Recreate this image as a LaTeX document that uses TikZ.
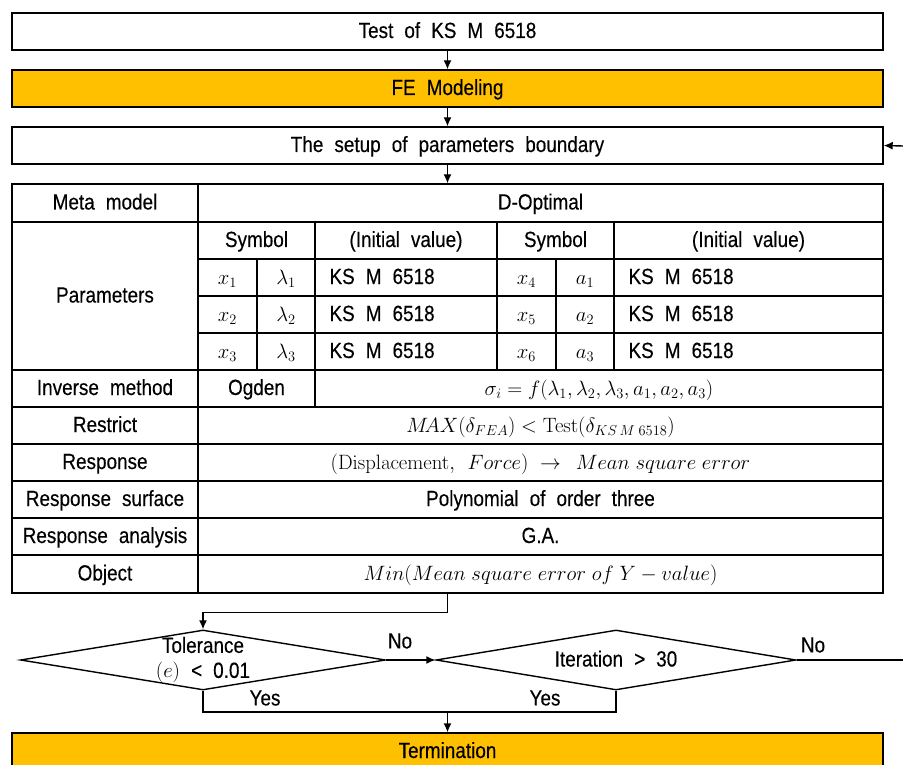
\documentclass[tikz,border=0pt]{standalone}
\usepackage{amsmath}
\usepackage[no-math]{fontspec}
\setmainfont{Liberation Sans}[FakeStretch=0.86, WordSpace=2.1, FakeBold=0.3]
\usetikzlibrary{shapes.geometric,arrows.meta}

\definecolor{fefill}{HTML}{FFC000}

\tikzset{
	every node/.style={font=\fontsize{22}{25}\selectfont},
	box/.style={draw, line width=1.4pt, minimum width=871pt, minimum height=37pt, inner sep=0pt, text height=18pt, text depth=5pt},
	fillbox/.style={box, fill=fefill},
	cell/.style={draw, line width=1.4pt, inner sep=0pt, text height=18pt, text depth=5pt},
	decision/.style={draw, diamond, line width=1.4pt, inner sep=0pt, minimum height=60pt},
	flow/.style={line width=1.4pt, -{Latex[length=9pt,width=8pt]}},
	conn/.style={line width=1.4pt},
	answer/.style={font=\fontsize{22}{25}\selectfont},
}

% table cell: name, x1, y1, x2, y2, content
\newcommand{\tcell}[6]{\node[cell, minimum width={(#4-#2)*1pt}, minimum height={(#5-#3)*1pt}] (#1) at ({(#2+#4)/2},{(#3+#5)/2}) {#6};}
% left aligned value cell
\newcommand{\vcell}[6]{\node[cell, minimum width={(#4-#2)*1pt}, minimum height={(#5-#3)*1pt}] (#1) at ({(#2+#4)/2},{(#3+#5)/2}) {};
	\node[anchor=west, inner sep=0pt, text height=18pt, text depth=5pt] (#1t) at ([xshift=15pt]#1.west) {#6};}

\begin{document}
\begin{tikzpicture}[x=1pt, y=-1pt]
	\useasboundingbox (0,0) rectangle (903,765);

	% top boxes
	\node[box] (test) at (447.5,31.5) {Test of KS M 6518};
	\node[fillbox] (fe) at (447.5,88.5) {FE Modeling};
	\node[box] (setup) at (447.5,145.5) {The setup of parameters boundary};

	\draw[flow] (test) -- (fe);
	\draw[flow] (fe) -- (setup);

	% table
	\tcell{meta}{12}{184}{198}{222}{Meta model}
	\tcell{metav}{198}{184}{883}{222}{D-Optimal}

	\tcell{par}{12}{222}{198}{370}{Parameters}
	\tcell{symA}{198}{222}{315}{259}{Symbol}
	\tcell{iniA}{315}{222}{497}{259}{(Initial value)}
	\tcell{symB}{497}{222}{614}{259}{Symbol}
	\tcell{iniB}{614}{222}{883}{259}{(Initial value)}

	\tcell{xa}{198}{259}{257}{296}{$x_1$}
	\tcell{la}{257}{259}{315}{296}{$\lambda_1$}
	\vcell{va}{315}{259}{497}{296}{KS M 6518}
	\tcell{xd}{497}{259}{556}{296}{$x_4$}
	\tcell{ad}{556}{259}{614}{296}{$a_1$}
	\vcell{vd}{614}{259}{883}{296}{KS M 6518}

	\tcell{xb}{198}{296}{257}{333}{$x_2$}
	\tcell{lb}{257}{296}{315}{333}{$\lambda_2$}
	\vcell{vb}{315}{296}{497}{333}{KS M 6518}
	\tcell{xe}{497}{296}{556}{333}{$x_5$}
	\tcell{ae}{556}{296}{614}{333}{$a_2$}
	\vcell{ve}{614}{296}{883}{333}{KS M 6518}

	\tcell{xc}{198}{333}{257}{370}{$x_3$}
	\tcell{lc}{257}{333}{315}{370}{$\lambda_3$}
	\vcell{vc}{315}{333}{497}{370}{KS M 6518}
	\tcell{xf}{497}{333}{556}{370}{$x_6$}
	\tcell{af}{556}{333}{614}{370}{$a_3$}
	\vcell{vf}{614}{333}{883}{370}{KS M 6518}

	\tcell{inv}{12}{370}{198}{407}{Inverse method}
	\tcell{ogden}{198}{370}{315}{407}{Ogden}
	\tcell{invv}{315}{370}{883}{407}{$\sigma_i = f(\lambda_1,\lambda_2,\lambda_3,a_1,a_2,a_3)$}

	\tcell{res}{12}{407}{198}{444}{Restrict}
	\tcell{resv}{198}{407}{883}{444}{$M\!AX(\delta_{FEA}) < \mathrm{Test}(\delta_{KS\,M\;6518})$}

	\tcell{resp}{12}{444}{198}{481}{Response}
	\tcell{respv}{198}{444}{883}{481}{$(\mathrm{Displacement},\;\, Force)\;\rightarrow\;\, Mean\;square\;error$}

	\tcell{surf}{12}{481}{198}{518}{Response surface}
	\tcell{surfv}{198}{481}{883}{518}{Polynomial of order three}

	\tcell{ana}{12}{518}{198}{555}{Response analysis}
	\tcell{anav}{198}{518}{883}{555}{G.A.}

	\tcell{obj}{12}{555}{198}{593}{Object}
	\tcell{objv}{198}{555}{883}{593}{$Min(Mean\;square\;error\;of\;Y - value)$}

	\draw[flow] (setup) -- (setup.south |- metav.north);

	% decisions
	\node[decision, minimum width=365pt] (tol) at (203,660) {};
	\node[align=center, inner sep=0pt] (toltext) at (tol.center) {Tolerance\\$(e)$ < 0.01};
	\node[decision, minimum width=360pt] (iter) at (616,660) {};
	\node[inner sep=0pt, text height=18pt, text depth=5pt] (itertext) at (iter.center) {Iteration > 30};
	\node[fillbox] (term) at (447.5,751.5) {Termination};

	\coordinate (merge) at (447.5,712);
	\coordinate (loopR) at (903,660);
	\coordinate (loopL) at (903,146);

	\draw[flow] (objv.south -| test.south) -- ++(0,19) -| (tol.north);
	\draw[flow] (tol.east) -- (iter.west);
	\node[answer] (noA) at (400,641) {No};
	\draw[conn] (iter.east) -- (loopR);
	\node[answer] (noB) at (813,645) {No};
	\draw[flow] (loopL) -- (setup.east);

	\draw[conn] (tol.south) |- (merge);
	\draw[conn] (iter.south) |- (merge);
	\draw[flow] (merge) -- (term.north);
	\node[answer] (yesA) at (265,698) {Yes};
	\node[answer] (yesB) at (545,698) {Yes};

\end{tikzpicture}
\end{document}
